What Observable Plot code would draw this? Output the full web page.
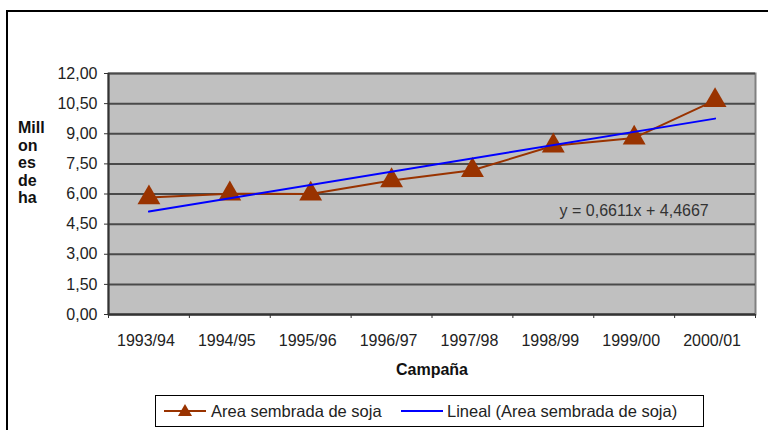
<!DOCTYPE html>
<html><head><meta charset="utf-8">
<script src="https://cdn.jsdelivr.net/npm/d3@7"></script>
<script src="https://cdn.jsdelivr.net/npm/@observablehq/plot@0.6"></script>
<style>
body{margin:0;background:#fff;font-family:"Liberation Sans",Arial,sans-serif;}
#wrap{position:relative;width:768px;height:430px;overflow:hidden;}
#chart{position:absolute;left:0;top:0;}
.bt{position:absolute;left:6px;top:10px;width:762px;height:2px;background:#000;}
.bl{position:absolute;left:6px;top:10px;width:2px;height:420px;background:#000;}
#ylabel{position:absolute;left:18px;top:119px;font-weight:bold;font-size:16px;line-height:17.5px;color:#111;}
#legend{position:absolute;left:155px;top:395px;width:549px;height:32px;border:1px solid #000;box-sizing:border-box;font-size:16.5px;color:#222;}
#legend .it{position:absolute;top:0;height:30px;line-height:30px;white-space:nowrap;}
#legend svg{position:absolute;top:5px;}
</style></head>
<body>
<div id="wrap">
  <div id="chart"></div>
  <div class="bt"></div><div class="bl"></div>
  <div id="ylabel">Mill<br>on<br>es<br>de<br>ha</div>
  <div id="legend"></div>
</div>
<script>
const categories = ["1993/94", "1994/95", "1995/96", "1996/97", "1997/98", "1998/99", "1999/00", "2000/01"];
const area = [5.82, 6.01, 6.00, 6.67, 7.18, 8.40, 8.79, 10.66];
const yTicks = [0, 1.5, 3, 4.5, 6, 7.5, 9, 10.5, 12];
const seriesName = "Area sembrada de soja";
const trendName = "Lineal (Area sembrada de soja)";
const equationLabel = "y = 0,6611x + 4,4667";
const xTitle = "Campaña";

const data = categories.map((c, i) => ({campaign: c, i: i + 1, area: area[i]}));
const edges = categories.map((c, i) => i + 0.5).concat([categories.length + 0.5]);
const centers = categories.map((c, i) => i + 1);
const fmt = d => d.toFixed(2).replace(".", ",");

const brown = "#993300";
const blue = "#0000FF";

const chart = Plot.plot({
  width: 768,
  height: 392,
  marginLeft: 108,
  marginRight: 13,
  marginTop: 73,
  marginBottom: 78,
  style: {fontFamily: '"Liberation Sans", Arial, sans-serif', fontSize: "16px", color: "#222", background: "transparent", overflow: "visible"},
  x: {type: "linear", domain: [0.5, categories.length + 0.5], axis: null},
  y: {domain: [0, 12], axis: null},
  marks: [
    Plot.frame({fill: "#C0C0C0", stroke: "#808080", strokeWidth: 2}),
    Plot.ruleY(yTicks, {stroke: "#4a4a4a", strokeWidth: 2}),
    Plot.ruleX([0.5], {stroke: "#333", strokeWidth: 2}),
    Plot.ruleY([0], {stroke: "#333", strokeWidth: 2}),
    Plot.axisY(yTicks, {anchor: "left", tickSize: 4, tickPadding: 7, tickFormat: fmt, label: null, stroke: "#333"}),
    Plot.axisX(edges, {anchor: "bottom", tickSize: 4, tickFormat: () => "", label: null, stroke: "#333"}),
    Plot.axisX(centers, {anchor: "bottom", tickSize: 0, tickPadding: 20, dx: -3, tickFormat: i => categories[i - 1], label: null}),
    Plot.text([xTitle], {frameAnchor: "bottom", dy: 60, fontWeight: "bold", fill: "#111"}),
    Plot.line(data, {x: "i", y: "area", stroke: brown, strokeWidth: 2}),
    Plot.dot(data, {x: "i", y: "area", symbol: "triangle", r: 8.5, fill: brown, stroke: "none"}),
    Plot.linearRegressionY(data, {x: "i", y: "area", ci: 0, stroke: blue, strokeWidth: 2}),
    Plot.text([equationLabel], {x: 7, y: 5.18, fill: "#333"})
  ]
});
document.getElementById("chart").appendChild(chart);

const legend = document.getElementById("legend");
legend.innerHTML = `
  <svg width="42" height="20" style="left:8px"><line x1="0" y1="10" x2="42" y2="10" stroke="${brown}" stroke-width="2"/><path d="M21,3 L28,15 L14,15 Z" fill="${brown}"/></svg>
  <div class="it" style="left:55px">${seriesName}</div>
  <svg width="42" height="20" style="left:245px"><line x1="0" y1="10" x2="42" y2="10" stroke="${blue}" stroke-width="2"/></svg>
  <div class="it" style="left:291px">${trendName}</div>`;
</script>
</body></html>
